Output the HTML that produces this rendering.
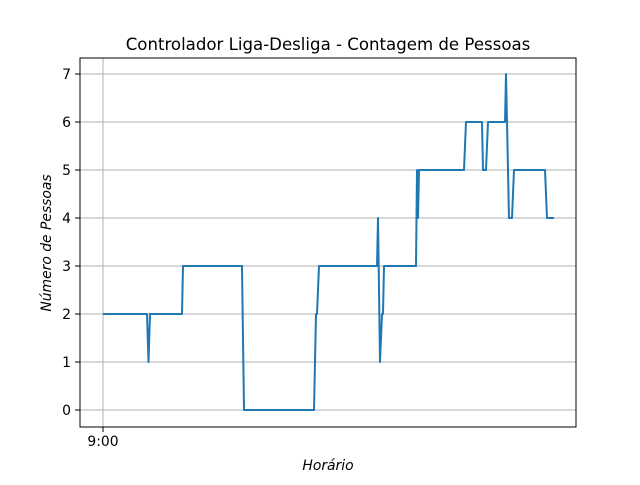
<!DOCTYPE html>
<html><head><meta charset="utf-8"><style>
body{margin:0;background:#fff}
svg text{font-family:"DejaVu Sans","Liberation Sans",sans-serif;fill:#000}
</style></head><body>
<svg width="640" height="480" xmlns="http://www.w3.org/2000/svg">
<rect width="640" height="480" fill="#fff"/>
<g id="grid"></g>
<g id="ticks"></g>
<path id="line" fill="none" stroke="#1f77b4" stroke-width="2" stroke-linejoin="round"/>
<rect x="80" y="58" width="496" height="369" fill="none" stroke="#000" stroke-width="1"/>
<text x="328" y="50" font-size="16.6" text-anchor="middle">Controlador Liga-Desliga - Contagem de Pessoas</text>
<text x="328" y="470" font-size="13.9" text-anchor="middle" font-style="italic">Horário</text>
<text transform="translate(51,243) rotate(-90)" font-size="13.9" text-anchor="middle" font-style="italic">Número de Pessoas</text>
</svg>
<script>
const minutes=[0,44,45.5,47,79,80,139,141,211,213,214,216,274,275,277,279,280,281,313,314,315,316,361,363,379,380,383,385,402,403,404,406,409,411,442,444,451];
const people=[2,2,1,2,2,3,3,0,0,2,2,3,3,4,1,2,2,3,3,5,4,5,5,6,6,5,5,6,6,7,6,4,4,5,5,4,4];
const yTicks=[0,1,2,3,4,5,6,7];
const xTickVals=[0];
const xTickLabels=["9:00"];
const X=v=>103+v, Y=v=>410-v*48;
const ns="http://www.w3.org/2000/svg";
const grid=document.getElementById('grid'),ticks=document.getElementById('ticks');
function mk(tag,attrs,parent){const e=document.createElementNS(ns,tag);for(const k in attrs)e.setAttribute(k,attrs[k]);parent.appendChild(e);return e;}
yTicks.forEach(t=>{
 const g=mk('line',{x1:80,x2:576,y1:Y(t),y2:Y(t),stroke:'#b0b0b0','stroke-width':1},grid);
 
 
 mk('line',{x1:75,x2:80,y1:Y(t),y2:Y(t),stroke:'#000','stroke-width':1},ticks);
 const tx=mk('text',{x:71,y:Y(t)+5,'font-size':13.9,'text-anchor':'end'},ticks);
 tx.textContent=t;
 
 
});
xTickVals.forEach((t,i)=>{
 const g=mk('line',{x1:X(t),x2:X(t),y1:58,y2:427,stroke:'#b0b0b0','stroke-width':1},grid);
 
 
 mk('line',{x1:X(t),x2:X(t),y1:427,y2:432,stroke:'#000','stroke-width':1},ticks);
 const tx=mk('text',{x:X(t),y:446,'font-size':13.9,'text-anchor':'middle'},ticks);
 tx.textContent=xTickLabels[i];
 
 
});
document.getElementById('line').setAttribute('d',minutes.map((m,i)=>(i?'L':'M')+X(m)+','+Y(people[i])).join(''));
</script>
</body></html>
